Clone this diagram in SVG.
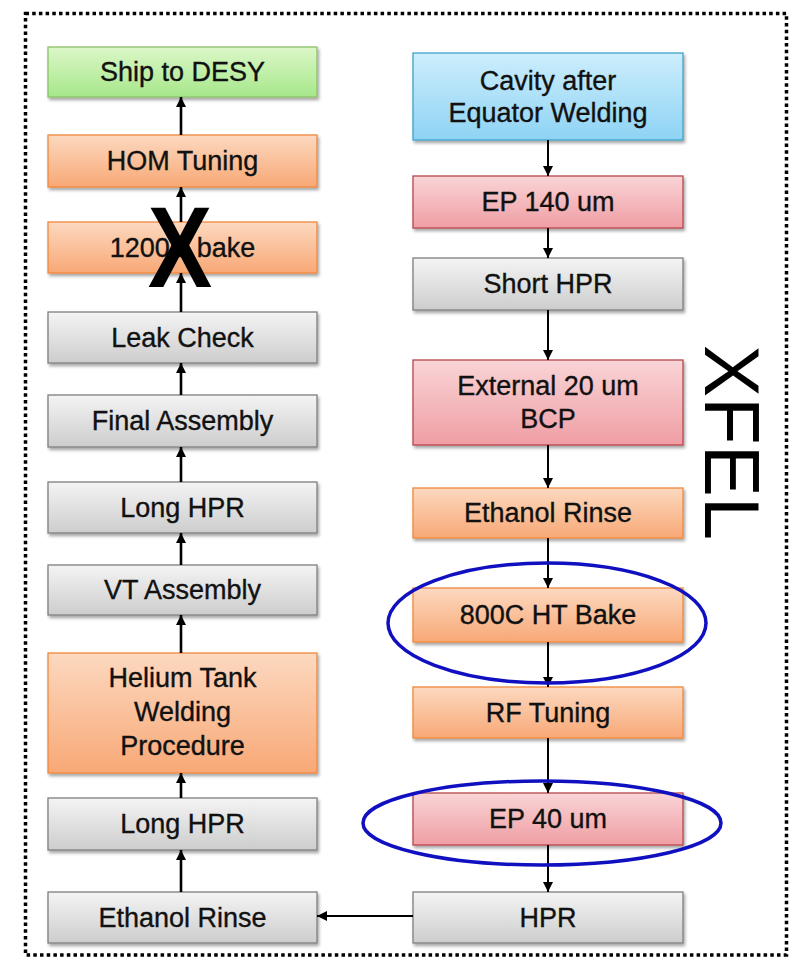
<svg xmlns="http://www.w3.org/2000/svg" width="794" height="959" viewBox="0 0 794 959">
  <defs>
    <linearGradient id="gGray" x1="0" y1="0" x2="0" y2="1">
      <stop offset="0" stop-color="#f4f4f4"/>
      <stop offset="1" stop-color="#cdcdcd"/>
    </linearGradient>
    <linearGradient id="gOrange" x1="0" y1="0" x2="0" y2="1">
      <stop offset="0" stop-color="#fcd9c0"/>
      <stop offset="1" stop-color="#f8a876"/>
    </linearGradient>
    <linearGradient id="gRed" x1="0" y1="0" x2="0" y2="1">
      <stop offset="0" stop-color="#f9d4d6"/>
      <stop offset="1" stop-color="#ef9ea4"/>
    </linearGradient>
    <linearGradient id="gBlue" x1="0" y1="0" x2="0" y2="1">
      <stop offset="0" stop-color="#cdeefc"/>
      <stop offset="1" stop-color="#8ed3f4"/>
    </linearGradient>
    <linearGradient id="gGreen" x1="0" y1="0" x2="0" y2="1">
      <stop offset="0" stop-color="#dcf7c8"/>
      <stop offset="1" stop-color="#a6e78a"/>
    </linearGradient>
    <filter id="shadow" x="-5%" y="-10%" width="115%" height="130%">
      <feDropShadow dx="1.5" dy="2.5" stdDeviation="1.5" flood-color="#000" flood-opacity="0.35"/>
    </filter>
    <marker id="arrow" viewBox="0 0 10 10" refX="10" refY="5" markerWidth="10" markerHeight="10" markerUnits="userSpaceOnUse" orient="auto">
      <path d="M0,0 L10,5 L0,10 Z" fill="#000"/>
    </marker>
  </defs>
  <style>
    .box { filter: url(#shadow); stroke-width: 1.3; }
    .gray { fill: url(#gGray); stroke: #7f7f7f; }
    .orange { fill: url(#gOrange); stroke: #f0883c; }
    .red { fill: url(#gRed); stroke: #b8474d; }
    .blue { fill: url(#gBlue); stroke: #3fa3c8; }
    .green { fill: url(#gGreen); stroke: #8cc06a; }
    .lbl { font-family: "Liberation Sans", Arial, sans-serif; font-size: 27px; fill: #111; stroke: #111; stroke-width: 0.35; text-anchor: middle; }
    .conn line { stroke: #000; marker-end: url(#arrow); }
    .left line { stroke-width: 2.6; }
    .right line { stroke-width: 2; }
    .ring { fill: none; stroke: #1010c0; stroke-width: 3.5; }
  </style>

  <rect width="794" height="959" fill="#fff"/>

  <!-- dotted frame -->
  <rect x="25.5" y="13.5" width="761" height="941.5" fill="none" stroke="#000" stroke-width="3.5" stroke-dasharray="3.5 3.2"/>

  <!-- left column: assembly steps, bottom to top -->
  <g id="ship-to-desy"><rect class="box green" x="48" y="47" width="269" height="50"/><text class="lbl" x="182.5" y="81">Ship to DESY</text></g>
  <g id="hom-tuning"><rect class="box orange" x="48" y="135" width="269" height="52"/><text class="lbl" x="182.5" y="170">HOM Tuning</text></g>
  <g id="bake-1200c"><rect class="box orange" x="48" y="222" width="269" height="51"/><text class="lbl" x="182.5" y="257">1200C bake</text></g>
  <g id="leak-check"><rect class="box gray" x="48" y="312" width="269" height="51"/><text class="lbl" x="182.5" y="347">Leak Check</text></g>
  <g id="final-assembly"><rect class="box gray" x="48" y="395" width="269" height="52"/><text class="lbl" x="182.5" y="430">Final Assembly</text></g>
  <g id="long-hpr-2"><rect class="box gray" x="48" y="482" width="269" height="51"/><text class="lbl" x="182.5" y="517">Long HPR</text></g>
  <g id="vt-assembly"><rect class="box gray" x="48" y="565" width="269" height="50"/><text class="lbl" x="182.5" y="599">VT Assembly</text></g>
  <g id="helium-tank"><rect class="box orange" x="48" y="653" width="269" height="120"/><text class="lbl" x="182.5" y="687">Helium Tank</text><text class="lbl" x="182.5" y="721">Welding</text><text class="lbl" x="182.5" y="755">Procedure</text></g>
  <g id="long-hpr-1"><rect class="box gray" x="48" y="798" width="269" height="52"/><text class="lbl" x="182.5" y="833">Long HPR</text></g>
  <g id="ethanol-rinse-2"><rect class="box gray" x="48" y="892" width="269" height="51"/><text class="lbl" x="182.5" y="927">Ethanol Rinse</text></g>

  <!-- right column: cavity preparation, top to bottom -->
  <g id="cavity"><rect class="box blue" x="413" y="53" width="270" height="87"/><text class="lbl" x="548" y="90">Cavity after</text><text class="lbl" x="548" y="122">Equator Welding</text></g>
  <g id="ep-140"><rect class="box red" x="413" y="176" width="270" height="52"/><text class="lbl" x="548" y="211">EP 140 um</text></g>
  <g id="short-hpr"><rect class="box gray" x="413" y="258" width="270" height="52"/><text class="lbl" x="548" y="293">Short HPR</text></g>
  <g id="external-bcp"><rect class="box red" x="413" y="360" width="270" height="85"/><text class="lbl" x="548" y="395">External 20 um</text><text class="lbl" x="548" y="428">BCP</text></g>
  <g id="ethanol-rinse-1"><rect class="box orange" x="413" y="488" width="270" height="50"/><text class="lbl" x="548" y="522">Ethanol Rinse</text></g>
  <g id="ht-bake-800c"><rect class="box orange" x="413" y="588" width="270" height="54"/><text class="lbl" x="548" y="624">800C HT Bake</text></g>
  <g id="rf-tuning"><rect class="box orange" x="413" y="687" width="270" height="51"/><text class="lbl" x="548" y="722">RF Tuning</text></g>
  <g id="ep-40"><rect class="box red" x="413" y="793" width="270" height="52"/><text class="lbl" x="548" y="828">EP 40 um</text></g>
  <g id="hpr"><rect class="box gray" x="413" y="892" width="270" height="51"/><text class="lbl" x="548" y="927">HPR</text></g>

  <!-- connectors -->
  <g id="connectors" class="conn">
    <g class="right">
      <line x1="548" y1="140" x2="548" y2="176"/>
      <line x1="548" y1="228" x2="548" y2="258"/>
      <line x1="548" y1="310" x2="548" y2="360"/>
      <line x1="548" y1="445" x2="548" y2="488"/>
      <line x1="548" y1="538" x2="548" y2="588"/>
      <line x1="548" y1="642" x2="548" y2="687"/>
      <line x1="548" y1="738" x2="548" y2="793"/>
      <line x1="548" y1="845" x2="548" y2="892"/>
      <line x1="413" y1="916" x2="317" y2="916"/>
    </g>
    <g class="left">
      <line x1="181" y1="892" x2="181" y2="850"/>
      <line x1="181" y1="798" x2="181" y2="773"/>
      <line x1="181" y1="653" x2="181" y2="615"/>
      <line x1="181" y1="565" x2="181" y2="533"/>
      <line x1="181" y1="482" x2="181" y2="447"/>
      <line x1="181" y1="395" x2="181" y2="363"/>
      <line x1="181" y1="312" x2="181" y2="273"/>
      <line x1="181" y1="222" x2="181" y2="187"/>
      <line x1="181" y1="135" x2="181" y2="97"/>
    </g>
  </g>

  <!-- cross over the 1200C bake step -->
  <text x="0" y="0" transform="translate(180 287) scale(0.84 1)" font-family="Liberation Sans, Arial, sans-serif" font-weight="bold" font-size="115" text-anchor="middle" fill="#000">X</text>

  <!-- highlight rings -->
  <ellipse class="ring" cx="547" cy="623" rx="159" ry="60"/>
  <ellipse class="ring" cx="542" cy="823" rx="179" ry="42"/>

  <!-- vertical title -->
  <text transform="translate(705 345) rotate(90)" font-family="Liberation Sans, Arial, sans-serif" font-size="78" fill="#000">XFEL</text>
</svg>
